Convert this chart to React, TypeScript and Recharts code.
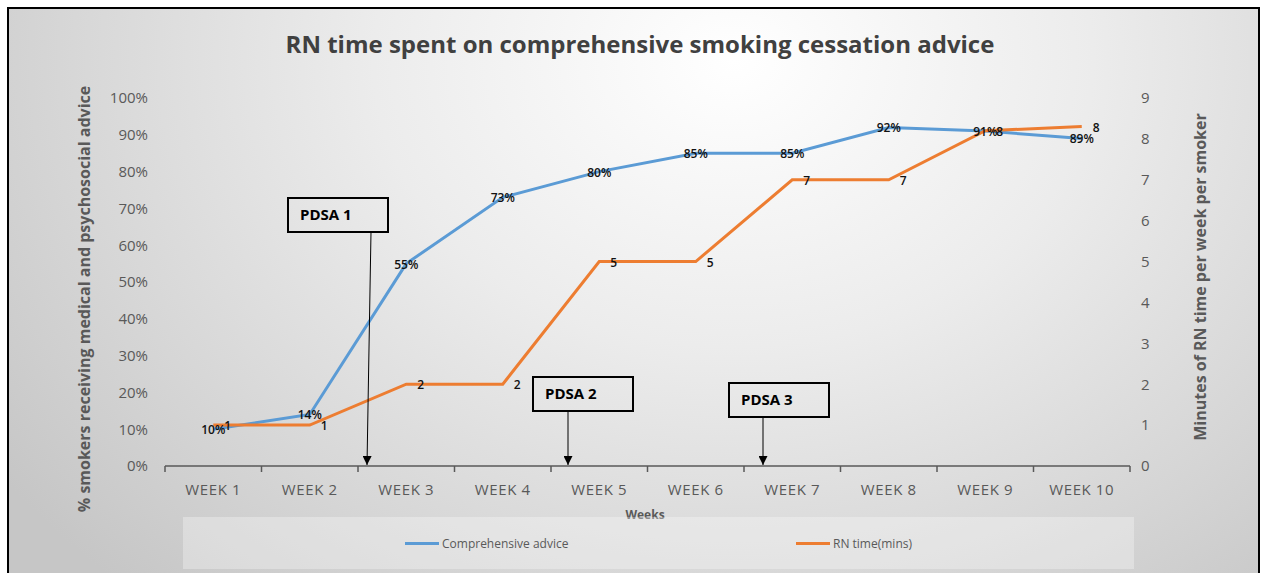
import { LineChart, Line, XAxis, YAxis, LabelList } from 'recharts'

// weekly audit results
const weeks = ['WEEK 1', 'WEEK 2', 'WEEK 3', 'WEEK 4', 'WEEK 5', 'WEEK 6', 'WEEK 7', 'WEEK 8', 'WEEK 9', 'WEEK 10']
const adviceShare = [0.10, 0.14, 0.55, 0.73, 0.80, 0.85, 0.85, 0.92, 0.91, 0.89]
const rnMinutes = [1, 1, 2, 2, 5, 5, 7, 7, 8.2, 8.3]

const pctTicks = [0, 0.1, 0.2, 0.3, 0.4, 0.5, 0.6, 0.7, 0.8, 0.9, 1]
const minuteTicks = [0, 1, 2, 3, 4, 5, 6, 7, 8, 9]

const seriesNames = ['Comprehensive advice', 'RN time(mins)']
const BLUE = '#5B9BD5'
const ORANGE = '#ED7D31'
const GREY = '#595959'
const FONT = '"Open Sans", sans-serif'

const data = weeks.map((label, i) => ({
  week: i + 1,
  label,
  advice: adviceShare[i],
  rn: rnMinutes[i],
}))

// labels sit at week centres, tick marks between weeks
const weekTicks = [...weeks.flatMap((_, i) => [i + 0.5, i + 1]), weeks.length + 0.5]

function WeekTick({ x, y, payload }: any) {
  const v = payload.value
  if (Number.isInteger(v)) {
    return (
      <text x={x} y={y + 29} textAnchor="middle" fill={GREY} fontSize={15} letterSpacing={0.6} fontFamily={FONT}>
        {weeks[v - 1]}
      </text>
    )
  }
  return <line x1={x} x2={x} y1={y} y2={y + 6} stroke={GREY} strokeWidth={1.5} />
}

function pointOf(props: any) {
  const vb = props.viewBox || {}
  return { x: props.x ?? vb.x, y: props.y ?? vb.y }
}

function AdviceLabel(props: any) {
  const { x, y } = pointOf(props)
  return (
    <text x={x} y={y + 5} textAnchor="middle" fontSize={12} fontWeight={600} fill="#111" fontFamily={FONT}>
      {Math.round(props.value * 100)}%
    </text>
  )
}

function MinutesLabel(props: any) {
  const { x, y } = pointOf(props)
  return (
    <text x={x + 11} y={y + 5} textAnchor="start" fontSize={12} fontWeight={600} fill="#111" fontFamily={FONT}>
      {Math.round(props.value)}
    </text>
  )
}

function PdsaBox({ x, y, text }: { x: number; y: number; text: string }) {
  return (
    <g>
      <rect x={x} y={y} width={100} height={34} fill="none" stroke="#000" strokeWidth={2} />
      <text x={x + 12} y={y + 22} fontSize={15} fontWeight={700} fill="#000" fontFamily={FONT}>
        {text}
      </text>
    </g>
  )
}

export default function App() {
  return (
    <div style={{ position: 'absolute', left: 0, top: 0, width: 1262, height: 573, overflow: 'hidden', background: '#fff' }}>
      <div style={{
        position: 'absolute',
        left: 7,
        top: 7,
        width: 1249,
        height: 640,
        border: '2px solid #000',
        background: 'radial-gradient(ellipse 72% 112% at 58% 8%, #ffffff 0%, #ececec 40%, #d6d6d6 75%, #c6c6c6 100%)',
      }} />

      <div style={{ position: 'absolute', left: 0, top: 0 }}>
        <LineChart width={1262} height={573} data={data} margin={{ top: 98, right: 82, left: 105, bottom: 67 }}>
          <XAxis
            dataKey="week"
            type="number"
            domain={[0.5, weeks.length + 0.5]}
            ticks={weekTicks}
            interval={0}
            height={40}
            tickSize={0}
            tickMargin={0}
            tickLine={false}
            axisLine={{ stroke: GREY, strokeWidth: 1.5 }}
            tick={<WeekTick />}
          />
          <YAxis
            yAxisId="pct"
            domain={[0, 1]}
            ticks={pctTicks}
            width={60}
            axisLine={false}
            tickLine={false}
            tickSize={0}
            tickMargin={17}
            tickFormatter={(v: number) => `${Math.round(v * 100)}%`}
            tick={{ fill: GREY, fontSize: 15, fontFamily: FONT }}
          />
          <YAxis
            yAxisId="min"
            orientation="right"
            domain={[0, 9]}
            ticks={minuteTicks}
            width={50}
            axisLine={false}
            tickLine={false}
            tickSize={0}
            tickMargin={11}
            tick={{ fill: GREY, fontSize: 15, fontFamily: FONT, textAnchor: 'start' }}
          />
          <Line
            yAxisId="pct"
            type="linear"
            dataKey="advice"
            name={seriesNames[0]}
            stroke={BLUE}
            strokeWidth={3}
            dot={false}
            isAnimationActive={false}
          >
            <LabelList dataKey="advice" content={AdviceLabel} />
          </Line>
          <Line
            yAxisId="min"
            type="linear"
            dataKey="rn"
            name={seriesNames[1]}
            stroke={ORANGE}
            strokeWidth={3}
            dot={false}
            isAnimationActive={false}
          >
            <LabelList dataKey="rn" content={MinutesLabel} />
          </Line>
        </LineChart>
      </div>

      <svg width={1262} height={573} style={{ position: 'absolute', left: 0, top: 0, pointerEvents: 'none' }}>
        <defs>
          <marker id="head" viewBox="0 0 10 10" refX={10} refY={5} markerWidth={9} markerHeight={9} markerUnits="userSpaceOnUse" orient="auto">
            <path d="M0,0 L10,5 L0,10 z" fill="#000" />
          </marker>
        </defs>
        <text x={640} y={53} textAnchor="middle" fontSize={24} fontWeight={700} fill="#404040" fontFamily={FONT}>
          RN time spent on comprehensive smoking cessation advice
        </text>
        <text
          transform="translate(84,299) rotate(-90)"
          textAnchor="middle"
          dominantBaseline="central"
          fontSize={16}
          fontWeight={700}
          fill={GREY}
          fontFamily={FONT}
        >
          % smokers receiving medical and psychosocial advice
        </text>
        <text
          transform="translate(1200,277) rotate(-90)"
          textAnchor="middle"
          dominantBaseline="central"
          fontSize={16}
          fontWeight={700}
          fill={GREY}
          fontFamily={FONT}
        >
          Minutes of RN time per week per smoker
        </text>
        <text x={645} y={519} textAnchor="middle" fontSize={12} fontWeight={700} fill={GREY} fontFamily={FONT}>
          Weeks
        </text>

        <PdsaBox x={288} y={198} text="PDSA 1" />
        <line x1={371} y1={232} x2={367} y2={465} stroke="#000" strokeWidth={1} markerEnd="url(#head)" />
        <PdsaBox x={533} y={377} text="PDSA 2" />
        <line x1={568} y1={411} x2={568} y2={465} stroke="#000" strokeWidth={1} markerEnd="url(#head)" />
        <PdsaBox x={729} y={383} text="PDSA 3" />
        <line x1={763} y1={417} x2={763} y2={465} stroke="#000" strokeWidth={1} markerEnd="url(#head)" />
      </svg>

      <div style={{
        position: 'absolute',
        left: 183,
        top: 517,
        width: 951,
        height: 52,
        background: 'rgba(255,255,255,0.3)',
        fontFamily: FONT,
        fontSize: 12,
        color: GREY,
      }}>
        {seriesNames.map((name, i) => (
          <div key={name} style={{ position: 'absolute', left: i === 0 ? 222 : 613, top: 18, display: 'flex', alignItems: 'center' }}>
            <span style={{ display: 'inline-block', width: 34, height: 3, background: i === 0 ? BLUE : ORANGE, marginRight: 3 }} />
            <span>{name}</span>
          </div>
        ))}
      </div>
    </div>
  )
}
